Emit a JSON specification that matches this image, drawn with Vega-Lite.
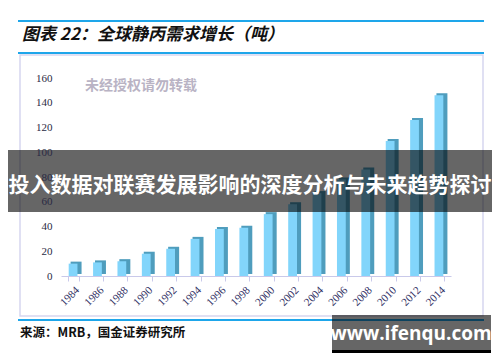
{
  "$schema": "https://vega.github.io/schema/vega-lite/v6.json",
  "autosize": "none",
  "width": 390,
  "height": 198,
  "padding": {"left": 61, "top": 78, "right": 49, "bottom": 86},
  "background": "white",
  "config": {"view": {"stroke": null}},
  "data": {"values": [
    {"year": "1984", "tons": 10},
    {"year": "1986", "tons": 11},
    {"year": "1988", "tons": 12},
    {"year": "1990", "tons": 18},
    {"year": "1992", "tons": 22},
    {"year": "1994", "tons": 30},
    {"year": "1996", "tons": 38},
    {"year": "1998", "tons": 39},
    {"year": "2000", "tons": 50},
    {"year": "2002", "tons": 58},
    {"year": "2004", "tons": 67},
    {"year": "2006", "tons": 78},
    {"year": "2008", "tons": 86},
    {"year": "2010", "tons": 109},
    {"year": "2012", "tons": 126},
    {"year": "2014", "tons": 146}
  ]},
  "encoding": {
    "x": {"field": "year", "type": "ordinal",
      "scale": {"paddingInner": 0.55, "paddingOuter": 0.27},
      "axis": {"title": null, "zindex": 1, "labelAngle": -45, "labelFont": "Liberation Serif", "labelFontSize": 11, "labelColor": "#2e2e62", "domainColor": "#c9c9ea", "tickColor": "#c9c9ea", "tickSize": 5, "tickBand": "extent", "labelPadding": 3}},
    "y": {"field": "tons", "type": "quantitative",
      "scale": {"domain": [0, 160]},
      "axis": {"title": null, "zindex": 1, "values": [0, 20, 40, 60, 80, 100, 120, 140, 160], "domain": false, "ticks": false, "grid": false, "labelFont": "Liberation Serif", "labelFontSize": 11, "labelColor": "#2a2a44", "labelPadding": 9}}
  },
  "layer": [
    {"data": {"values": [{}]}, "mark": {"type": "rect", "fill": "white", "stroke": "#d6d6ef", "strokeWidth": 1.5},
     "encoding": {"x": {"value": -41}, "x2": {"value": 422}, "y": {"value": -23}, "y2": {"value": 238}}},
    {"data": {"values": [{}]}, "mark": {"type": "rule", "stroke": "#1ea6ea", "strokeWidth": 2},
     "encoding": {"x": {"value": -43}, "x2": {"value": 423}, "y": {"value": -57}}},
    {"data": {"values": [{}]}, "mark": {"type": "rule", "stroke": "#1ea6ea", "strokeWidth": 2},
     "encoding": {"x": {"value": -43}, "x2": {"value": 423}, "y": {"value": -25}}},
    {"data": {"values": [{}]}, "mark": {"type": "rule", "stroke": "#1ea6ea", "strokeWidth": 2},
     "encoding": {"x": {"value": -43}, "x2": {"value": 423}, "y": {"value": 242}}},
    {"mark": {"type": "bar", "color": "#4f9dbd", "xOffset": 3, "yOffset": -2, "y2Offset": -2}},
    {"mark": {"type": "bar", "color": "#82d5fb", "width": {"band": 0.8}}},
    {"data": {"values": [{}]}, "mark": {"type": "text", "text": "未经授权请勿转载", "font": "Noto Sans CJK SC", "fontWeight": "bold", "fontSize": 14, "fill": "#b9b3c4", "align": "left", "baseline": "middle"},
     "encoding": {"x": {"value": 24}, "y": {"value": 8}}},
    {"data": {"values": [{}]}, "mark": {"type": "text", "text": "图表 22：全球静丙需求增长（吨）", "font": "Noto Sans CJK SC", "fontWeight": "bold", "fontStyle": "italic", "fontSize": 17, "fill": "#111111", "align": "left", "baseline": "middle"},
     "encoding": {"x": {"value": -39}, "y": {"value": -43}}},
    {"data": {"values": [{}]}, "mark": {"type": "text", "text": "来源：MRB，国金证券研究所", "font": "Noto Sans CJK SC", "fontWeight": "bold", "fontSize": 12.5, "fill": "#111111", "align": "left", "baseline": "middle"},
     "encoding": {"x": {"value": -41}, "y": {"value": 255}}},
    {"data": {"values": [{}]}, "mark": {"type": "rect", "fill": "black", "opacity": 0.6},
     "encoding": {"x": {"value": -53}, "x2": {"value": 431}, "y": {"value": 72}, "y2": {"value": 134}}},
    {"data": {"values": [{}]}, "mark": {"type": "text", "text": "投入数据对联赛发展影响的深度分析与未来趋势探讨", "font": "Noto Sans CJK SC", "fontWeight": "bold", "fontSize": 21, "fill": "white", "align": "center", "baseline": "middle"},
     "encoding": {"x": {"value": 189}, "y": {"value": 108}}},
    {"data": {"values": [{}]}, "mark": {"type": "rect", "fill": "black", "opacity": 0.6},
     "encoding": {"x": {"value": 271}, "x2": {"value": 430}, "y": {"value": 237}, "y2": {"value": 272}}},
    {"data": {"values": [{}]}, "mark": {"type": "rect", "fill": "black"},
     "encoding": {"x": {"value": 271}, "x2": {"value": 430}, "y": {"value": 272}, "y2": {"value": 275}}},
    {"data": {"values": [{}]}, "mark": {"type": "text", "text": "www.ifenqu.com", "font": "Open Sans", "fontWeight": "bold", "fontSize": 19, "fill": "white", "align": "center", "baseline": "middle"},
     "encoding": {"x": {"value": 350}, "y": {"value": 256}}}
  ]
}
